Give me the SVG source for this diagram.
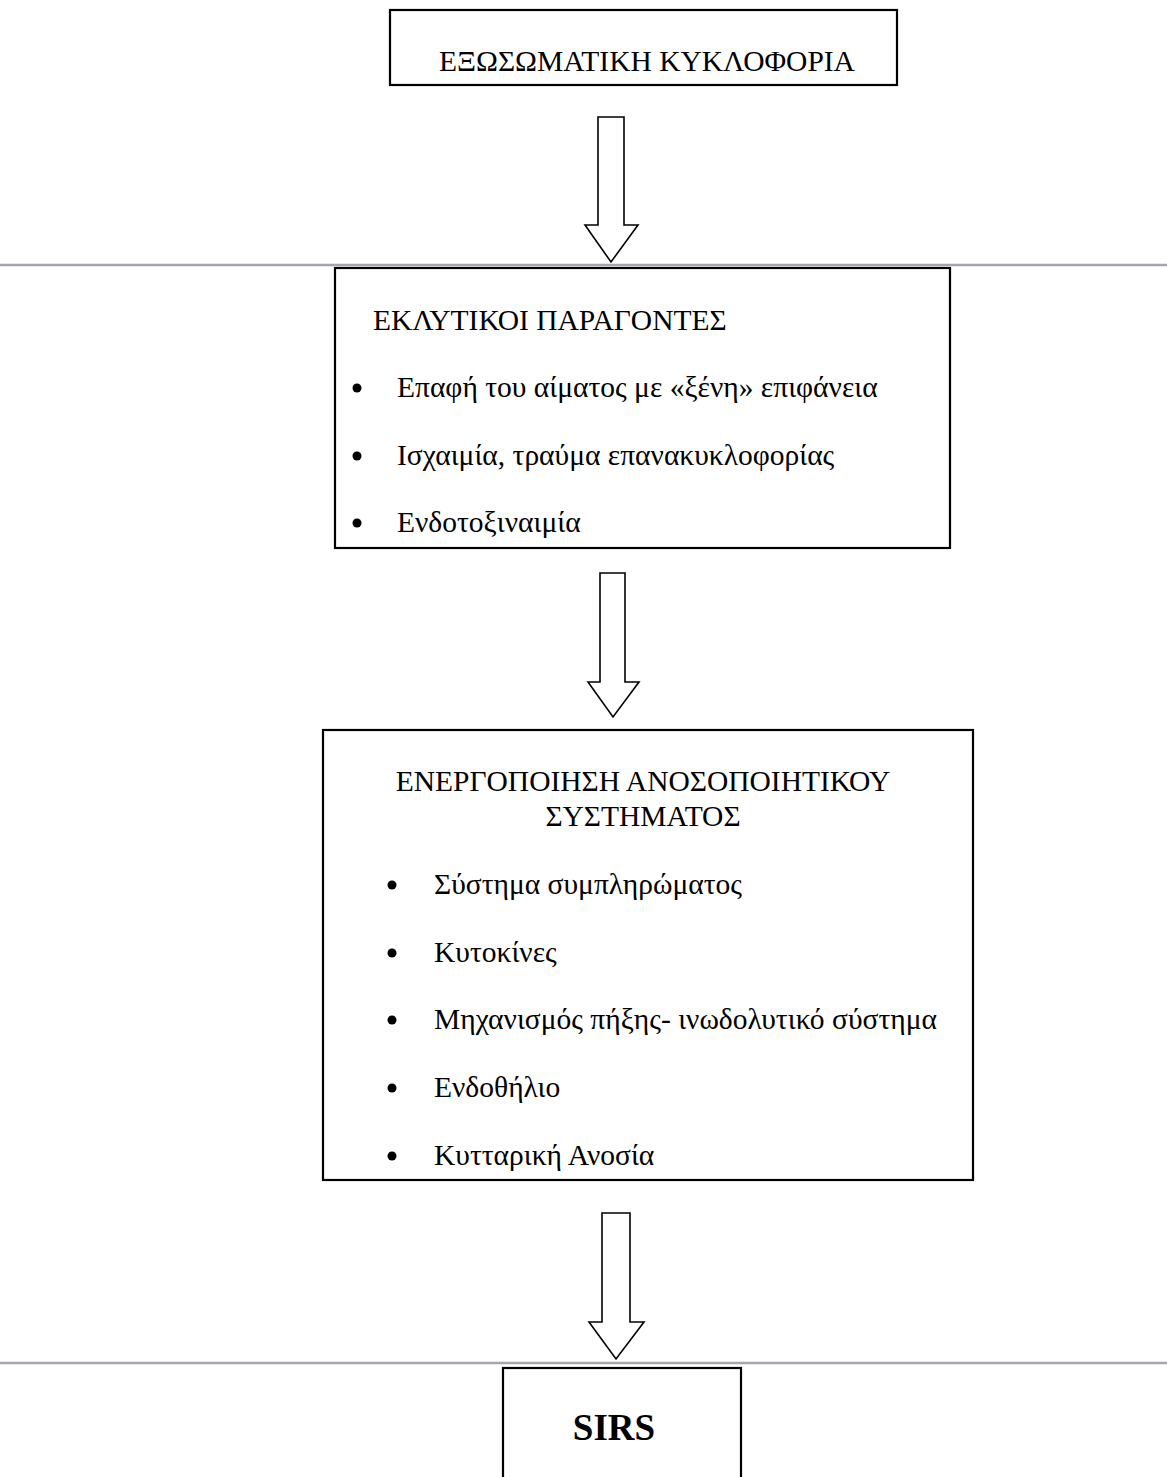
<svg xmlns="http://www.w3.org/2000/svg" width="1167" height="1477" viewBox="0 0 1167 1477">
<style>
.box{fill:#fff;stroke:#000;stroke-width:2.2}
.t{font-family:"Liberation Serif","Times New Roman",serif;font-size:29.5px;fill:#000}
.c{text-anchor:middle}
.b{font-family:"Liberation Serif","Times New Roman",serif;font-size:37px;font-weight:bold;fill:#000;text-anchor:middle}
.arrow{fill:#fff;stroke:#000;stroke-width:1.6;stroke-linejoin:miter}
.rule{stroke:#a2a5ad;stroke-width:2.5}
.dot{fill:#000}
</style>
<rect width="1167" height="1477" fill="#fff"/>
<g id="rules">
<line class="rule" x1="0" y1="265" x2="1167" y2="265"/>
<line class="rule" x1="0" y1="1363" x2="1167" y2="1363"/>
</g>
<g id="n1">
<rect class="box" x="390" y="10" width="507" height="75"/>
<text class="t" x="439" y="71">ΕΞΩΣΩΜΑΤΙΚΗ ΚΥΚΛΟΦΟΡΙΑ</text>
</g>
<g id="n2">
<rect class="box" x="335" y="268" width="615" height="280"/>
<text class="t" x="373" y="330">ΕΚΛΥΤΙΚΟΙ ΠΑΡΑΓΟΝΤΕΣ</text>
<circle class="dot" cx="357" cy="388" r="4.5"/>
<text class="t" x="397" y="397">Επαφή του αίματος με «ξένη» επιφάνεια</text>
<circle class="dot" cx="357" cy="456" r="4.5"/>
<text class="t" x="397" y="465">Ισχαιμία, τραύμα επανακυκλοφορίας</text>
<circle class="dot" cx="357" cy="523" r="4.5"/>
<text class="t" x="397" y="532">Ενδοτοξιναιμία</text>
</g>
<g id="n3">
<rect class="box" x="323" y="730" width="650" height="450"/>
<text class="t c" x="643" y="791">ΕΝΕΡΓΟΠΟΙΗΣΗ ΑΝΟΣΟΠΟΙΗΤΙΚΟΥ</text>
<text class="t c" x="643" y="826">ΣΥΣΤΗΜΑΤΟΣ</text>
<circle class="dot" cx="392" cy="885" r="4.5"/>
<text class="t" x="434" y="894">Σύστημα συμπληρώματος</text>
<circle class="dot" cx="392" cy="953" r="4.5"/>
<text class="t" x="434" y="962">Κυτοκίνες</text>
<circle class="dot" cx="392" cy="1020" r="4.5"/>
<text class="t" x="434" y="1029">Μηχανισμός πήξης- ινωδολυτικό σύστημα</text>
<circle class="dot" cx="392" cy="1088" r="4.5"/>
<text class="t" x="434" y="1097">Ενδοθήλιο</text>
<circle class="dot" cx="392" cy="1156" r="4.5"/>
<text class="t" x="434" y="1165">Κυτταρική Ανοσία</text>
</g>
<g id="n4">
<rect class="box" x="503" y="1368" width="238" height="130"/>
<text class="b" x="614" y="1440">SIRS</text>
</g>
<g id="connectors">
<path class="arrow" d="M598,117 H624 V225 H638 L611,262 L585,225 H598 Z"/>
<path class="arrow" d="M600,573 H625 V682 H639 L613,717 L588,682 H600 Z"/>
<path class="arrow" d="M602,1213 H630 V1322 H644 L616,1359 L589,1322 H602 Z"/>
</g>
</svg>
